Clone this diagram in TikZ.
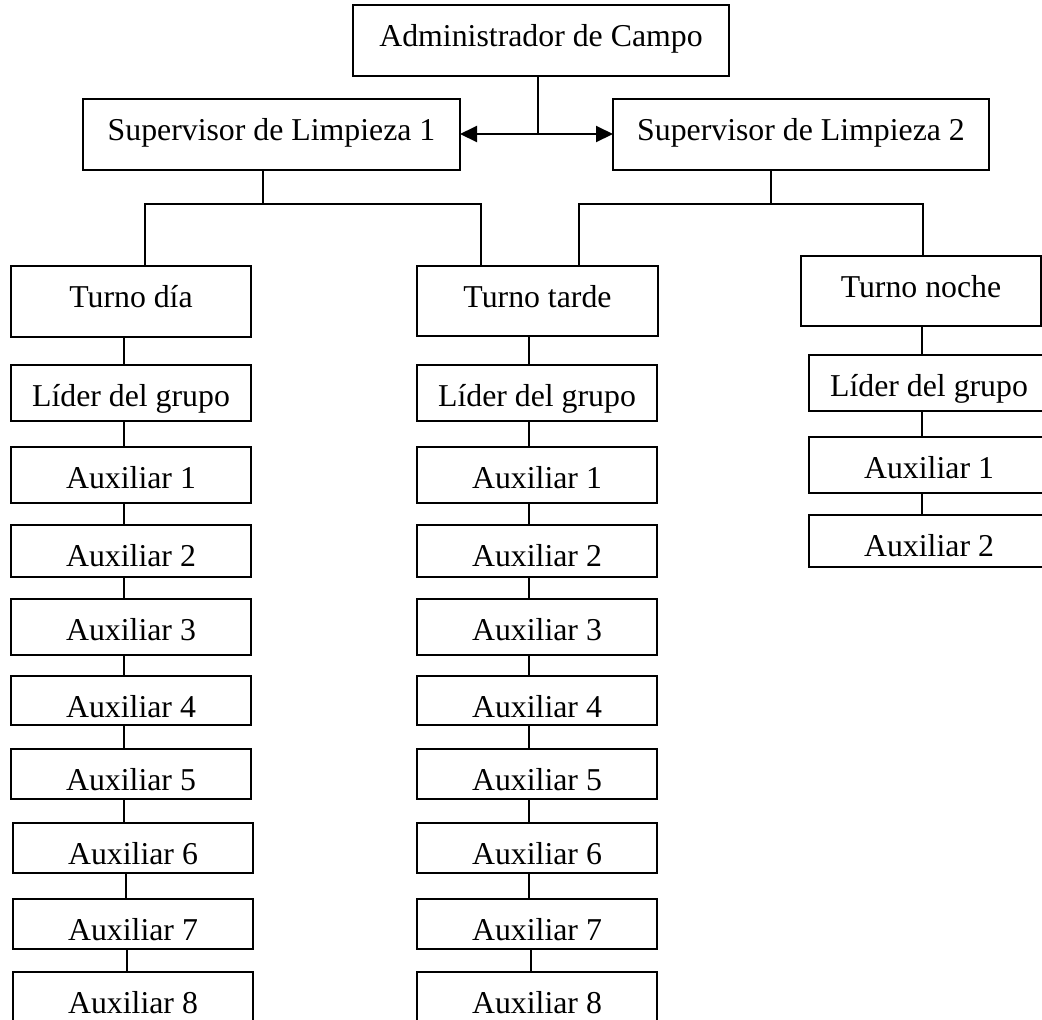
\documentclass[tikz,border=0pt]{standalone}
\usepackage{fontspec}
\setmainfont{Liberation Serif}
\usetikzlibrary{arrows.meta}
\begin{document}
\begin{tikzpicture}[x=0.5pt,y=-0.5pt,
  box/.style={draw, line width=1pt, inner sep=0pt, outer sep=0pt,
    font=\fontsize{15.9}{19}\selectfont, text height=20.5pt},
  link/.style={line width=1pt},
  dbl/.style={line width=1pt, {Triangle[length=8.5pt,width=8pt]}-{Triangle[length=8.5pt,width=8pt]}}]
\useasboundingbox (0,0) rectangle (1042,1019);
\clip (0,0) rectangle (1042,1019);

% top levels
\node[box, minimum width=188pt, text depth=15pt] (admin) at (541,40.5) {Administrador de Campo};
\node[box, minimum width=188.5pt, text depth=15pt] (sup1) at (271.5,134.5) {Supervisor de Limpieza 1};
\node[box, minimum width=188pt, text depth=15pt] (sup2) at (801,134.5) {Supervisor de Limpieza 2};

% shifts
\node[box, minimum width=120pt, text depth=15pt] (dia) at (131,301.5) {Turno día};
\node[box, minimum width=120.5pt, text depth=14.5pt] (tarde) at (537.5,301) {Turno tarde};
\node[box, minimum width=120pt, text depth=14.5pt] (noche) at (921,291) {Turno noche};

% day column
\node[box, minimum width=120pt, text depth=7.5pt] (dl) at (131,393) {Líder del grupo};
\node[box, minimum width=120pt, text depth=7.5pt] (d1) at (131,475) {Auxiliar 1};
\node[box, minimum width=120pt, text depth=5.5pt] (d2) at (131,551) {Auxiliar 2};
\node[box, minimum width=120pt, text depth=7.5pt] (d3) at (131,627) {Auxiliar 3};
\node[box, minimum width=120pt, text depth=4pt] (d4) at (131,700.5) {Auxiliar 4};
\node[box, minimum width=120pt, text depth=4.5pt] (d5) at (131,774) {Auxiliar 5};
\node[box, minimum width=120pt, text depth=4.5pt] (d6) at (133,848) {Auxiliar 6};
\node[box, minimum width=120pt, text depth=4.5pt] (d7) at (133,924) {Auxiliar 7};
\node[box, minimum width=120pt, text depth=7.5pt] (d8) at (133,1000) {Auxiliar 8};

% afternoon column
\node[box, minimum width=120pt, text depth=7.5pt] (tl) at (537,393) {Líder del grupo};
\node[box, minimum width=120pt, text depth=7.5pt] (t1) at (537,475) {Auxiliar 1};
\node[box, minimum width=120pt, text depth=5.5pt] (t2) at (537,551) {Auxiliar 2};
\node[box, minimum width=120pt, text depth=7.5pt] (t3) at (537,627) {Auxiliar 3};
\node[box, minimum width=120pt, text depth=4pt] (t4) at (537,700.5) {Auxiliar 4};
\node[box, minimum width=120pt, text depth=4.5pt] (t5) at (537,774) {Auxiliar 5};
\node[box, minimum width=120pt, text depth=4.5pt] (t6) at (537,848) {Auxiliar 6};
\node[box, minimum width=120pt, text depth=4.5pt] (t7) at (537,924) {Auxiliar 7};
\node[box, minimum width=120pt, text depth=7.5pt] (t8) at (537,1000) {Auxiliar 8};

% night column
\node[box, minimum width=120pt, text depth=7.5pt] (nl) at (929,383) {Líder del grupo};
\node[box, minimum width=120pt, text depth=7.5pt] (n1) at (929,465) {Auxiliar 1};
\node[box, minimum width=120pt, text depth=5.5pt] (n2) at (929,541) {Auxiliar 2};

% junction points
\coordinate (j) at (538,134);
\coordinate (s1) at (263,204);
\coordinate (l1) at (145,204);
\coordinate (r1) at (481,204);
\coordinate (s2) at (771,204);
\coordinate (l2) at (579,204);
\coordinate (r2) at (923,204);
\coordinate (cd) at (124,0);
\coordinate (ct) at (529,0);
\coordinate (cn) at (922,0);

% administrator to supervisors
\draw[link] (admin.south -| j) -- (j);
\draw[dbl] (sup1.east |- j) -- (sup2.west |- j);

% supervisors to shifts
\draw[link] (sup1.south -| s1) -- (s1);
\draw[link] (dia.north -| l1) -- (l1) -- (r1) -- (tarde.north -| r1);
\draw[link] (sup2.south -| s2) -- (s2);
\draw[link] (tarde.north -| l2) -- (l2) -- (r2) -- (noche.north -| r2);

% column chains
\foreach \a/\b in {dia/dl,dl/d1,d1/d2,d2/d3,d3/d4,d4/d5,d5/d6}
  \draw[link] (\a.south -| cd) -- (\b.north -| cd);
\draw[link] ([xshift=1pt]d6.south -| cd) -- ([xshift=1pt]d7.north -| cd);
\draw[link] ([xshift=1.5pt]d7.south -| cd) -- ([xshift=1.5pt]d8.north -| cd);
\foreach \a/\b in {tarde/tl,tl/t1,t1/t2,t2/t3,t3/t4,t4/t5,t5/t6,t6/t7}
  \draw[link] (\a.south -| ct) -- (\b.north -| ct);
\draw[link] ([xshift=1pt]t7.south -| ct) -- ([xshift=1pt]t8.north -| ct);
\foreach \a/\b in {noche/nl,nl/n1,n1/n2}
  \draw[link] (\a.south -| cn) -- (\b.north -| cn);
\end{tikzpicture}
\end{document}
